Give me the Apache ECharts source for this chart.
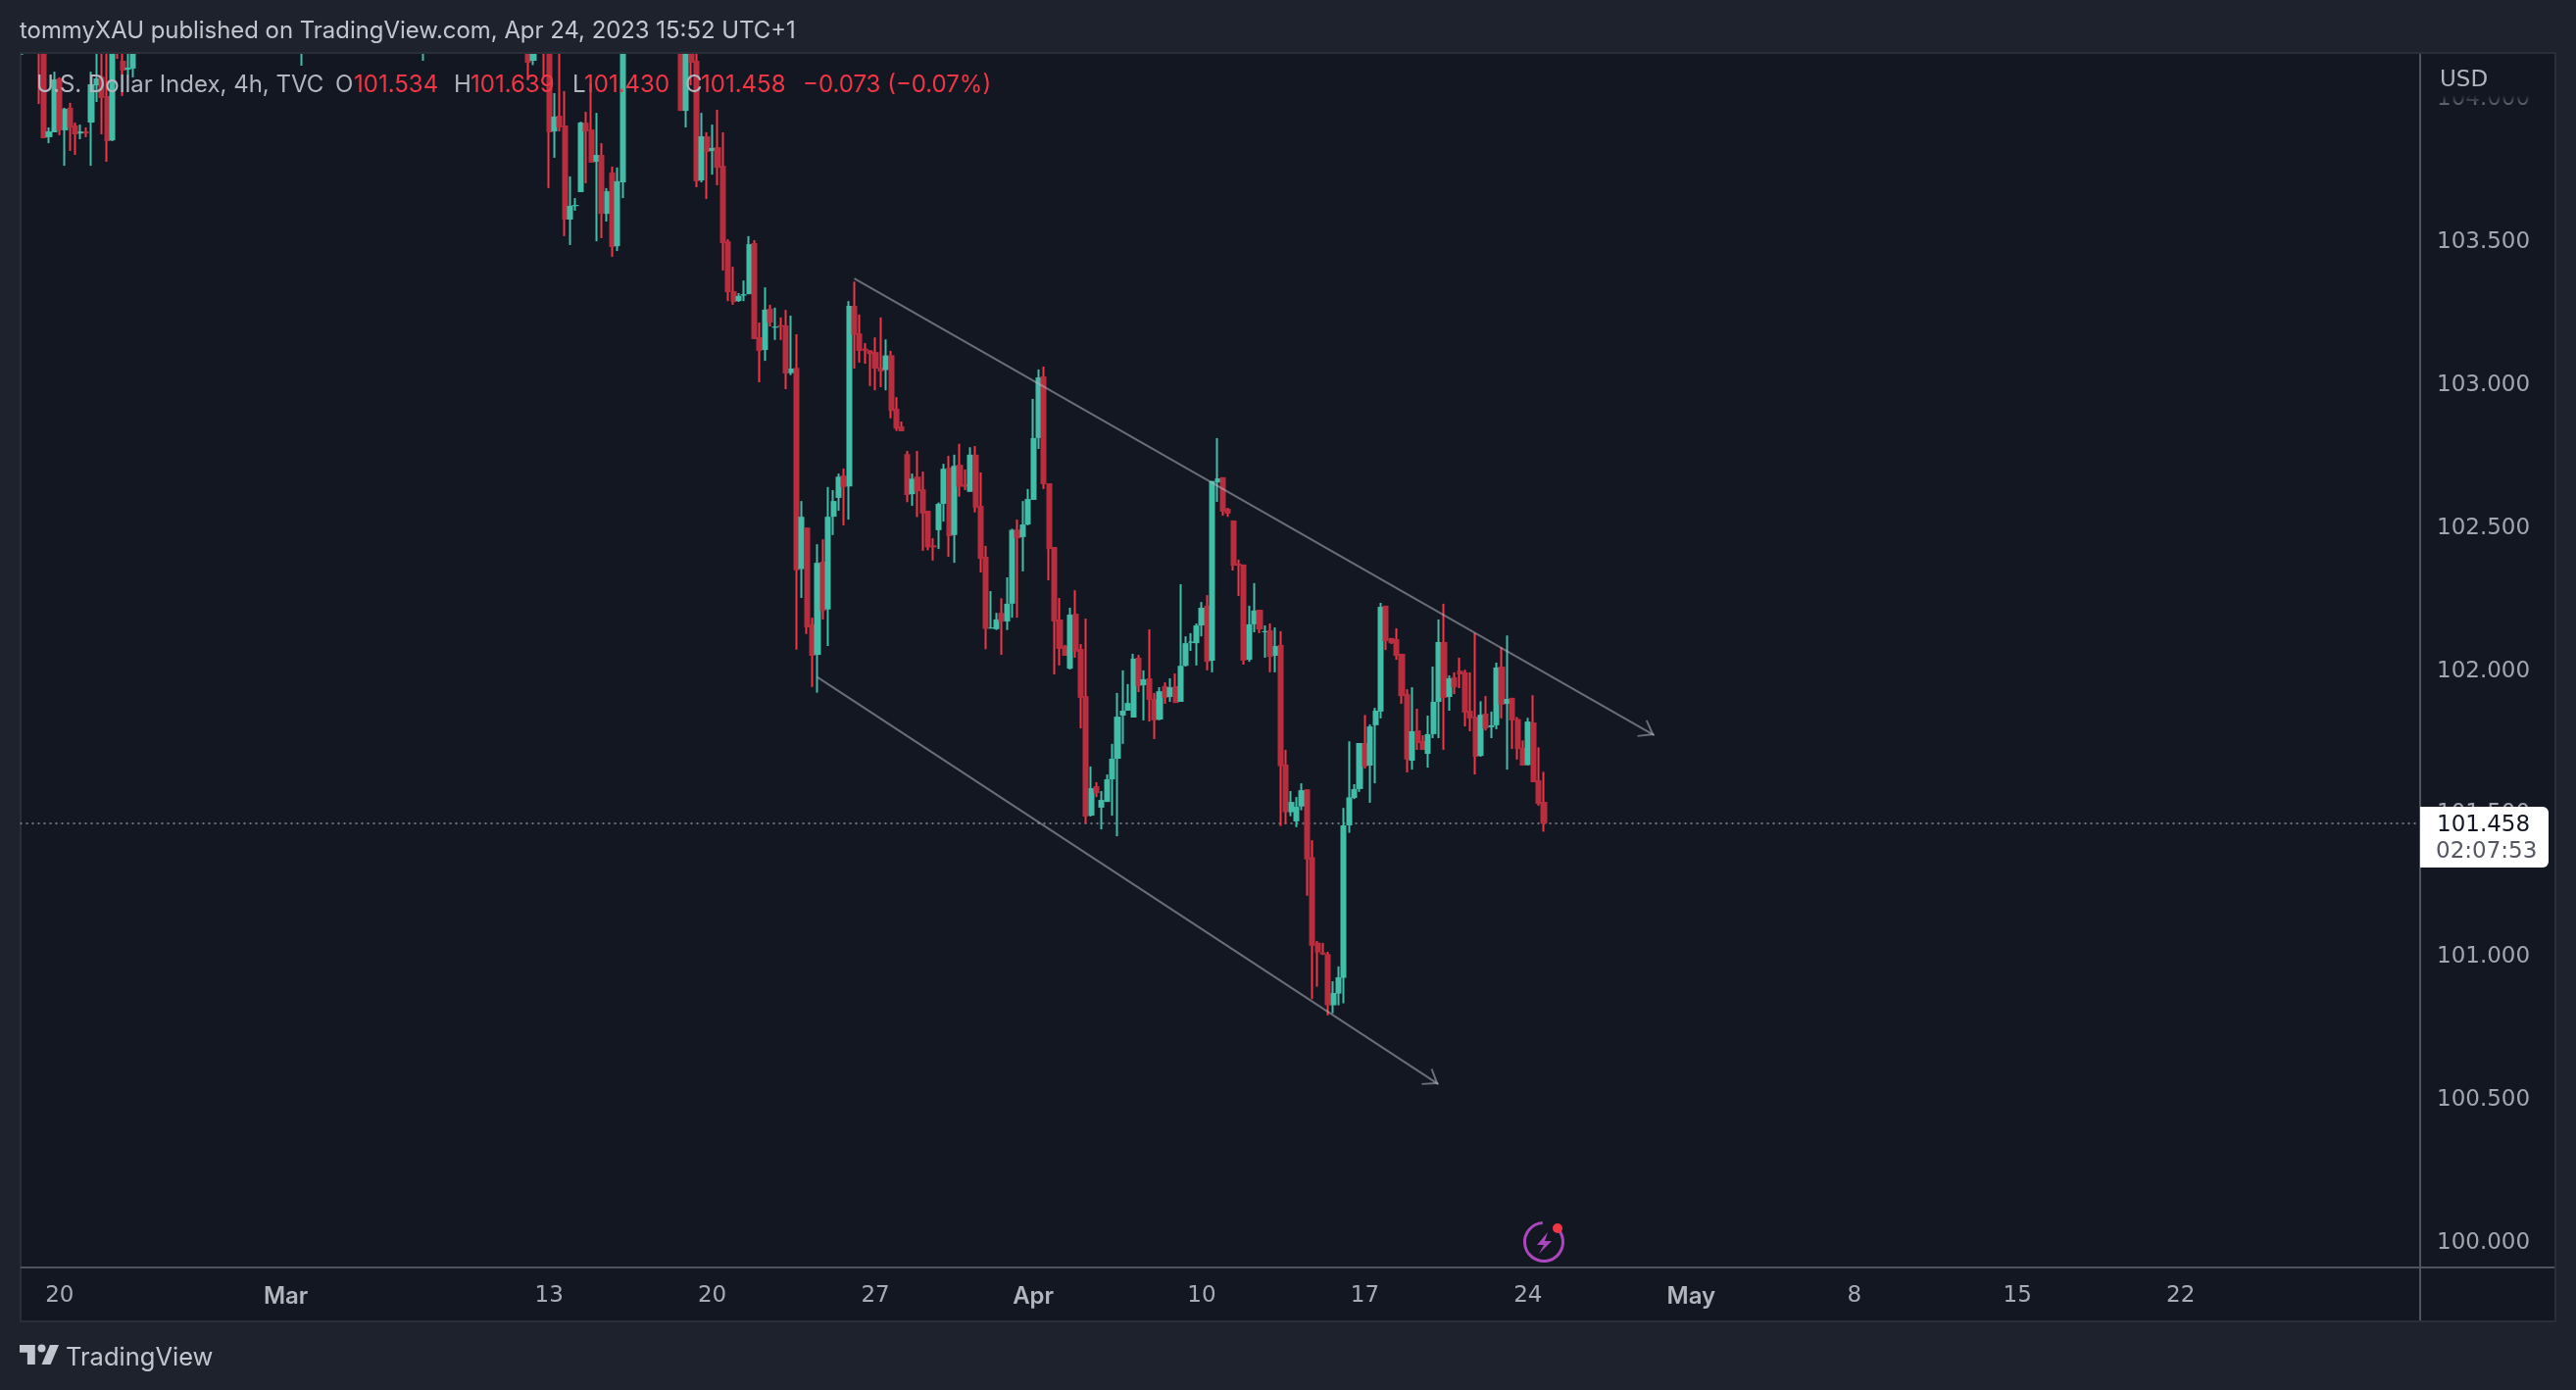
<!DOCTYPE html>
<html>
<head>
<meta charset="utf-8">
<title>U.S. Dollar Index, 4h</title>
<script src="https://cdn.jsdelivr.net/npm/echarts@6/dist/echarts.min.js"></script>
<style>
  html, body { margin: 0; padding: 0; background: #1e222d; }
  #chart { width: 100vw; height: 100vh; }
</style>
</head>
<body>
<div id="chart"></div>
<script>
// 4h bars, weeks are 31 bars wide. Bars above the pane are left out, clipped ones have a guessed top.
const BAR_SLOTS = 456;
const range = (a, b) => Array.from({ length: b - a + 1 }, (_, i) => a + i);
const barIndex = [0, ...range(3, 21), 53, 76, 96, 97, ...range(99, 114), ...range(125, 289)];

const opens = [
  104.25, 104.35, 104.30, 103.858, 103.875, 104.063, 103.882, 103.961, 103.899, 103.871,
  103.878, 103.909, 104.039, 104.070, 104.002, 103.847, 104.30, 104.125, 104.094, 104.098,
  104.30, 104.30,
  104.350, 104.125, 104.300, 104.250, 103.878, 103.933, 103.899, 103.570, 103.617, 103.666,
  103.909, 103.885, 103.772, 103.796, 103.590, 103.734, 103.477, 103.700,
  104.300, 103.950, 104.230, 104.125, 103.707, 103.861, 103.810, 103.823, 103.758,
  103.494, 103.320, 103.285, 103.304, 103.309, 103.488, 103.159, 103.114, 103.258, 103.192,
  103.201, 103.200, 103.033, 103.052, 102.348, 102.493, 102.155, 102.048, 102.374, 102.207,
  102.531, 102.597, 102.675, 102.637, 103.268, 103.172, 103.119, 103.113, 103.107, 103.052,
  103.044, 103.096, 102.909, 102.847, 102.750, 102.610, 102.671, 102.627, 102.552, 102.431,
  102.484, 102.576, 102.703, 102.467, 102.713, 102.644, 102.618, 102.748, 102.569, 102.391,
  102.140, 102.138, 102.195, 102.165, 102.227, 102.486, 102.460, 102.504, 102.590, 102.806,
  103.022, 102.648, 102.425, 102.172, 102.079, 102.000, 102.192, 102.069, 101.904, 101.486,
  101.589, 101.514, 101.534, 101.613, 101.685, 101.836, 101.853, 101.829, 102.038, 101.942,
  101.966, 101.894, 101.822, 101.939, 101.901, 101.939, 101.884, 102.010, 102.090, 102.089,
  102.151, 102.220, 102.028, 102.651, 102.669, 102.559, 102.518, 102.367, 102.364, 102.031,
  102.155, 102.206, 102.127, 102.134, 102.045, 102.083, 101.665, 101.498, 101.466, 101.518,
  101.578, 101.341, 101.042, 101.008, 101.002, 100.823, 100.864, 100.919, 101.452, 101.548,
  101.579, 101.740, 101.661, 101.802, 101.850, 102.220, 102.107, 102.103, 102.052, 101.911,
  101.678, 101.784, 101.747, 101.702, 101.771, 101.884, 102.093, 101.901, 101.970, 101.993,
  101.987, 101.853, 101.832, 101.695, 101.843, 101.795, 101.802, 102.007, 101.877, 101.898,
  101.824, 101.723, 101.663, 101.812, 101.610, 101.534
];
const closes = [
  104.30, 104.25, 103.854, 103.878, 104.060, 103.882, 103.957, 103.892, 103.868, 103.878,
  103.871, 104.043, 104.063, 103.995, 103.844, 104.25, 104.22, 104.091, 104.101, 104.30,
  104.40, 104.40,
  104.118, 104.300, 104.180, 103.875, 103.930, 103.892, 103.570, 103.618, 103.621, 103.909,
  103.878, 103.769, 103.796, 103.590, 103.669, 103.474, 103.704, 104.400,
  103.950, 104.260, 104.118, 103.704, 103.861, 103.806, 103.820, 103.751, 103.488,
  103.316, 103.282, 103.303, 103.309, 103.484, 103.152, 103.111, 103.255, 103.210, 103.196,
  103.196, 103.032, 103.049, 102.344, 102.531, 102.144, 102.045, 102.370, 102.202, 102.531,
  102.586, 102.671, 102.635, 103.268, 103.167, 103.111, 103.111, 103.100, 103.049, 103.039,
  103.095, 102.901, 102.839, 102.830, 102.607, 102.664, 102.620, 102.542, 102.424, 102.424,
  102.576, 102.699, 102.463, 102.709, 102.636, 102.636, 102.748, 102.563, 102.384, 102.139,
  102.144, 102.172, 102.164, 102.227, 102.485, 102.456, 102.504, 102.593, 102.806, 103.018,
  102.645, 102.418, 102.165, 102.069, 102.045, 102.189, 102.059, 101.898, 101.483, 101.582,
  101.565, 101.541, 101.613, 101.685, 101.832, 101.853, 101.880, 102.035, 101.939, 101.963,
  101.891, 101.819, 101.921, 101.898, 101.935, 101.880, 102.010, 102.089, 102.095, 102.151,
  102.213, 102.024, 102.656, 102.665, 102.549, 102.542, 102.360, 102.360, 102.028, 102.155,
  102.203, 102.137, 102.131, 102.041, 102.079, 101.659, 101.498, 101.534, 101.517, 101.575,
  101.333, 101.031, 101.008, 101.001, 100.823, 100.866, 100.921, 101.452, 101.550, 101.579,
  101.740, 101.658, 101.798, 101.853, 102.216, 102.096, 102.089, 102.045, 101.904, 101.682,
  101.781, 101.740, 101.716, 101.771, 101.884, 102.093, 101.898, 101.966, 101.935, 101.980,
  101.846, 101.826, 101.692, 101.839, 101.791, 101.802, 102.004, 101.874, 101.894, 101.819,
  101.719, 101.661, 101.815, 101.603, 101.527, 101.458
];
const lows = [
  104.146, 103.974, 103.854, 103.837, 103.875, 103.865, 103.758, 103.810, 103.796, 103.851,
  103.858, 103.758, 103.981, 103.868, 103.772, 103.844, 104.132, 104.002, 104.077, 104.067,
  104.108, 104.125,
  104.057, 104.110, 104.070, 103.680, 103.786, 103.878, 103.512, 103.481, 103.601, 103.666,
  103.697, 103.769, 103.494, 103.505, 103.563, 103.440, 103.460, 103.645,
  103.950, 103.892, 104.039, 103.683, 103.700, 103.642, 103.727, 103.690, 103.392,
  103.285, 103.272, 103.282, 103.285, 103.309, 103.152, 103.001, 103.076, 103.196, 103.149,
  103.149, 102.977, 103.026, 102.066, 102.247, 102.121, 101.936, 101.916, 102.172, 102.079,
  102.467, 102.552, 102.501, 102.521, 103.049, 103.070, 103.066, 102.988, 102.973, 102.984,
  102.973, 102.875, 102.831, 102.830, 102.582, 102.569, 102.530, 102.412, 102.414, 102.378,
  102.418, 102.514, 102.391, 102.370, 102.601, 102.624, 102.618, 102.546, 102.336, 102.068,
  102.140, 102.135, 102.048, 102.135, 102.178, 102.178, 102.340, 102.501, 102.590, 102.768,
  102.628, 102.309, 101.980, 102.011, 102.045, 101.997, 102.038, 101.791, 101.459, 101.483,
  101.551, 101.438, 101.534, 101.486, 101.414, 101.737, 101.853, 101.829, 101.918, 101.819,
  101.815, 101.754, 101.819, 101.877, 101.884, 101.880, 101.884, 102.007, 102.062, 102.011,
  102.113, 101.994, 101.987, 102.583, 102.535, 102.531, 102.343, 102.254, 102.014, 102.024,
  102.127, 102.124, 102.038, 101.987, 101.987, 101.450, 101.457, 101.484, 101.446, 101.505,
  101.206, 100.845, 100.888, 100.999, 100.788, 100.795, 100.823, 100.830, 101.426, 101.544,
  101.569, 101.651, 101.531, 101.599, 101.826, 102.065, 102.086, 102.031, 101.877, 101.637,
  101.647, 101.716, 101.716, 101.654, 101.757, 101.757, 101.716, 101.853, 101.911, 101.932,
  101.798, 101.781, 101.630, 101.692, 101.784, 101.757, 101.788, 101.826, 101.647, 101.719,
  101.682, 101.661, 101.661, 101.603, 101.521, 101.430
];
const highs = [
  104.35, 104.40, 104.35, 103.892, 104.087, 104.067, 103.961, 103.978, 103.909, 103.902,
  103.892, 104.087, 104.25, 104.25, 104.25, 104.30, 104.35, 104.25, 104.25, 104.35,
  104.45, 104.45,
  104.380, 104.340, 104.350, 104.300, 104.012, 104.152, 104.019, 103.721, 103.645, 103.912,
  103.947, 104.046, 103.943, 103.837, 103.680, 103.755, 103.752, 104.450,
  104.360, 104.320, 104.300, 104.152, 103.943, 103.875, 103.902, 103.954, 103.875,
  103.501, 103.405, 103.313, 103.357, 103.512, 103.498, 103.210, 103.333, 103.272, 103.262,
  103.228, 103.254, 103.234, 103.169, 102.586, 102.493, 102.178, 102.435, 102.452, 102.635,
  102.624, 102.682, 102.699, 103.285, 103.353, 103.238, 103.138, 103.113, 103.158, 103.228,
  103.151, 103.111, 102.949, 102.864, 102.761, 102.682, 102.761, 102.689, 102.552, 102.456,
  102.581, 102.716, 102.744, 102.748, 102.786, 102.696, 102.774, 102.778, 102.686, 102.429,
  102.271, 102.195, 102.246, 102.319, 102.489, 102.521, 102.586, 102.628, 102.943, 103.046,
  103.056, 102.648, 102.425, 102.247, 102.083, 102.213, 102.274, 102.086, 102.175, 101.658,
  101.603, 101.572, 101.630, 101.737, 101.915, 101.994, 101.946, 102.052, 102.048, 101.994,
  102.137, 101.915, 101.935, 101.952, 101.966, 101.983, 102.295, 102.113, 102.124, 102.158,
  102.233, 102.257, 102.656, 102.806, 102.669, 102.562, 102.518, 102.381, 102.364, 102.220,
  102.299, 102.206, 102.151, 102.158, 102.144, 102.131, 101.716, 101.572, 101.551, 101.599,
  101.578, 101.400, 101.048, 101.041, 101.010, 100.907, 100.959, 101.513, 101.746, 101.596,
  101.740, 101.838, 101.805, 101.863, 102.230, 102.220, 102.107, 102.141, 102.052, 101.928,
  101.935, 101.860, 101.767, 101.836, 102.007, 102.172, 102.227, 101.976, 101.987, 102.038,
  101.996, 101.987, 102.124, 101.886, 101.904, 101.850, 102.021, 102.075, 102.116, 101.898,
  101.831, 101.749, 101.828, 101.907, 101.725, 101.639
];

// date labels: bar index + text
const tickIndex = [7, 50, 100, 131, 162, 192, 224, 255, 286, 317, 348, 379, 410];
const tickText = ['20', 'Mar', '13', '20', '27', 'Apr', '10', '17', '24', 'May', '8', '15', '22'];
const monthLabels = ['Mar', 'Apr', 'May'];
const priceTicks = [100, 100.5, 101, 101.5, 102, 102.5, 103, 103.5, 104];

const lastPrice = 101.458;
const countdown = '02:07:53';

// drawn channel, [bar index, price] at both ends
const channelUpper = [[158, 103.364], [310, 101.767]];
const channelLower = [[151, 101.970], [269, 100.547]];

const RED = '#f23645';
const RED_BODY = '#b92e3f';
const GREEN = '#42bda8';
const PAGE = '#1e222d';
const PANEL = '#131722';
const BORDER = '#2a2e39';
const AXIS = '#50535e';
const FONT = 'Inter';
const AXIS_FONT = '"DejaVu Sans"';

// text, x, colour
const legendItems = [
  ['U.S. Dollar Index, 4h, TVC', 37, '#b2b5be'],
  ['O', 342, '#b2b5be'], ['101.534', 361, RED],
  ['H', 463, '#b2b5be'], ['101.639', 480, RED],
  ['L', 584, '#b2b5be'], ['101.430', 596, RED],
  ['C', 699, '#b2b5be'], ['101.458', 715, RED],
  ['\u22120.073 (\u22120.07%)', 819, RED]
];

const categories = new Array(BAR_SLOTS).fill('');
tickIndex.forEach((idx, k) => { categories[idx] = tickText[k]; });

const wickData = barIndex.map((idx, k) => [idx, opens[k], closes[k], lows[k], highs[k]]);
const bodyData = barIndex.map((idx, k) => [
  idx, opens[k], closes[k], Math.min(opens[k], closes[k]), Math.max(opens[k], closes[k])
]);

// chevron with its tip in the middle of the box, so the tip lands on the line end
const OPEN_ARROW = 'path://M0,-14 L0.01,-14 L0,-14 Z M0,0 L9,13 L7.6,14 L0,3.4 L-7.6,14 L-9,13 Z';

function label(text, x, y, fill, size, fontFamily) {
  return {
    type: 'text', x, y, z: 20, silent: true,
    style: {
      text, fill, font: `${size}px ${fontFamily || FONT}`, verticalAlign: 'middle', align: 'left'
    }
  };
}

const chart = echarts.init(document.getElementById('chart'));

const option = {
  backgroundColor: PAGE,
  animation: false,
  grid: { left: 20.5, right: 159, top: 54, bottom: 125.3 },
  xAxis: {
    type: 'category',
    data: categories,
    boundaryGap: true,
    axisLine: { show: false },
    axisTick: { show: false },
    splitLine: { show: false },
    axisLabel: {
      interval: (i, v) => v !== '',
      hideOverlap: false,
      margin: 18,
      color: '#a8abb5',
      fontFamily: 'DejaVu Sans',
      fontSize: 23,
      formatter: v => (monthLabels.includes(v) ? `{m|${v}}` : v),
      rich: { m: { color: '#b2b5be', fontFamily: FONT, fontSize: 24, fontWeight: 600 } }
    }
  },
  yAxis: {
    type: 'value',
    position: 'right',
    min: 99.9075,
    max: 104.1525,
    axisLine: { show: false },
    axisTick: { show: false },
    splitLine: { show: false },
    axisLabel: {
      customValues: priceTicks,
      margin: 17,
      formatter: v => `{p|${v.toFixed(3)}}`,
      rich: {
        p: { padding: [5, 0, 0, 0], color: '#a3a6af', fontFamily: 'DejaVu Sans', fontSize: 23 }
      }
    }
  },
  series: [
    {
      name: 'wicks',
      type: 'candlestick',
      z: 2,
      barWidth: 1,
      encode: { x: 0, y: [1, 2, 3, 4] },
      data: wickData,
      itemStyle: { color: GREEN, color0: RED, borderColor: GREEN, borderColor0: RED, borderWidth: 2 },
      markLine: {
        silent: true,
        z: 1,
        animation: false,
        symbol: 'none',
        label: { show: false },
        lineStyle: { color: '#6f727c', type: [2, 4], width: 2 },
        data: [{ yAxis: lastPrice }]
      }
    },
    {
      name: 'bodies',
      type: 'candlestick',
      z: 3,
      barWidth: 6.6,
      encode: { x: 0, y: [1, 2, 3, 4] },
      data: bodyData,
      itemStyle: { color: GREEN, color0: RED_BODY, borderColor: GREEN, borderColor0: RED_BODY, borderWidth: 0 },
      markLine: {
        silent: true,
        z: 6,
        animation: false,
        symbol: ['none', OPEN_ARROW],
        symbolSize: [20, 30],
        label: { show: false },
        lineStyle: { color: 'rgba(178,181,190,0.55)', type: 'solid', width: 2 },
        data: [channelUpper, channelLower].map(line => [
          { coord: line[0] }, { coord: line[1] }
        ])
      }
    }
  ],
  graphic: [
    // panel and frame
    { type: 'rect', z: -1, silent: true, shape: { x: 21, y: 54, width: 2586, height: 1294 },
      style: { fill: PANEL, stroke: BORDER, lineWidth: 2 } },
    // candlesticks only drop whole boxes at the grid edge, so the header strip covers what pokes out
    { type: 'rect', z: 7, silent: true, shape: { x: 0, y: 0, width: 2628, height: 53 },
      style: { fill: PAGE } },
    { type: 'line', z: 8, silent: true, shape: { x1: 20, y1: 54, x2: 2608, y2: 54 },
      style: { stroke: BORDER, lineWidth: 2 } },
    { type: 'line', z: 8, silent: true, shape: { x1: 21, y1: 1293, x2: 2606, y2: 1293 },
      style: { stroke: AXIS, lineWidth: 2 } },
    { type: 'line', z: 8, silent: true, shape: { x1: 2469, y1: 55, x2: 2469, y2: 1347 },
      style: { stroke: AXIS, lineWidth: 2 } },

    // USD header fades out the 104.000 tick below it
    { type: 'rect', z: 9, silent: true, shape: { x: 2471, y: 55, width: 135, height: 54 },
      style: { fill: new echarts.graphic.LinearGradient(0, 0, 0, 1, [
        { offset: 0, color: PANEL }, { offset: 0.78, color: PANEL }, { offset: 1, color: 'rgba(19,23,34,0.3)' }
      ]) } },
    label('USD', 2489, 82, '#b2b5be', 23, AXIS_FONT),

    // last price tag
    { type: 'rect', z: 10, silent: true, shape: { x: 2469, y: 823, width: 131, height: 62, r: [0, 6, 6, 0] },
      style: { fill: '#ffffff' } },
    label(lastPrice.toFixed(3), 2486, 842, '#131722', 23, AXIS_FONT),
    label(countdown, 2485, 869, '#555861', 23, AXIS_FONT),

    // header, legend, footer
    label('tommyXAU published on TradingView.com, Apr 24, 2023 15:52 UTC+1', 20, 32, '#c3c6cf', 23.9),
    ...legendItems.map(it => label(it[0], it[1], 86.5, it[2], 24)),
    { type: 'polygon', z: 20, silent: true,
      shape: { points: [[20, 1372], [35.8, 1372], [35.8, 1392], [27.9, 1392], [27.9, 1379.8], [20, 1379.8]] },
      style: { fill: '#c3c6cf' } },
    { type: 'polygon', z: 20, silent: true,
      shape: { points: [[42.5, 1392], [51, 1372], [60, 1372], [51.6, 1392]] },
      style: { fill: '#c3c6cf' } },
    { type: 'circle', z: 20, silent: true, shape: { cx: 42.5, cy: 1375.5, r: 4 }, style: { fill: '#c3c6cf' } },
    label('TradingView', 67, 1385, '#c3c6cf', 25.5),

    // news flash marker
    { type: 'arc', z: 20, silent: true,
      shape: { cx: 1575, cy: 1267, r: 19.5, startAngle: -Math.PI * 0.28, endAngle: -Math.PI * 0.52, clockwise: true },
      style: { stroke: '#ab47bc', lineWidth: 3, fill: 'none' } },
    { type: 'polygon', z: 20, silent: true,
      shape: { points: [[1579, 1257], [1568, 1270], [1575, 1270], [1570, 1279], [1583, 1266], [1576, 1266]] },
      style: { fill: '#ab47bc' } },
    { type: 'circle', z: 21, silent: true, shape: { cx: 1589, cy: 1253, r: 5 }, style: { fill: RED } }
  ]
};

chart.setOption(option);
window.addEventListener('resize', () => chart.resize());
</script>
</body>
</html>
